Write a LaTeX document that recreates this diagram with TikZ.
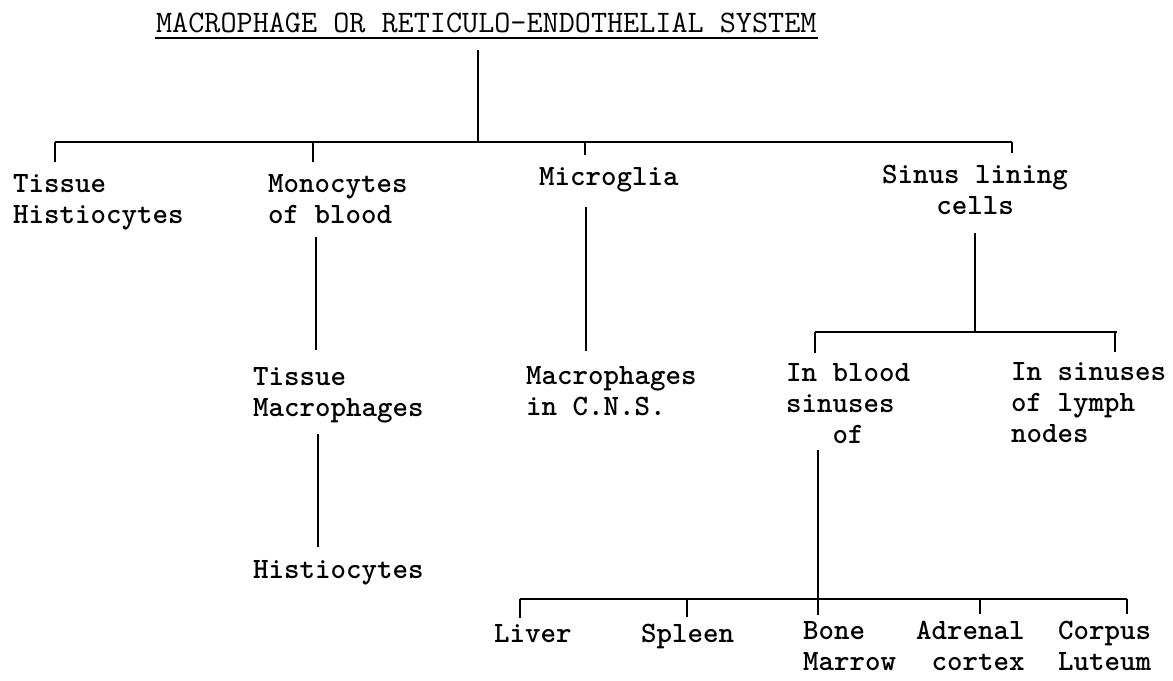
\documentclass[tikz,border=0pt]{standalone}
\usepackage{fontspec}
\usetikzlibrary{positioning}

\begin{document}
\begin{tikzpicture}[x=0.02cm, y=-0.02cm, line width=1.3pt,
    lbl/.style={font=\fontsize{16.8}{17.6}\selectfont\ttfamily\bfseries, inner sep=0pt,
                align=left, anchor=base west}]
    \useasboundingbox (0,0) rectangle (1173,680);

    % heading with underline
    \node[lbl, font=\fontsize{17.8}{18}\selectfont\ttfamily] (title) at (155,32)
        {MACROPHAGE OR RETICULO-ENDOTHELIAL SYSTEM};
    \draw[line width=1.1pt] ([yshift=-0.12cm] title.base west) -- ([yshift=-0.12cm] title.base east);

    % first level: four kinds of cells (base = last line)
    \node[lbl] (tissue) at (12,223) {Tissue\\Histiocytes};
    \node[lbl] (mono)   at (267,223) {Monocytes\\of blood};
    \node[lbl] (micro)  at (538,185) {Microglia};
    \node[lbl, align=center, anchor=base] (sinus) at (975,214) {Sinus lining\\cells};

    \coordinate (top)  at (478,50);
    \coordinate (barL) at (55,142);
    \coordinate (barR) at (1012,142);
    \draw (top) -- (top |- barL);
    \draw (barL) -- (barR);
    \foreach \n/\x in {tissue/55, mono/313, micro/585, sinus/1012}
        \draw (\x,142) -- ([yshift=6pt] \n.north -| \x,0);

    % monocytes branch
    \node[lbl] (tmac) at (252,416) {Tissue\\Macrophages};
    \node[lbl] (hist) at (252,578) {Histiocytes};
    \draw ([yshift=-7pt] mono.south -| 316,0) -- ([yshift=9pt] tmac.north -| 316,0);
    \draw ([yshift=-6pt] tmac.south -| 318,0) -- ([yshift=7pt] hist.north -| 318,0);

    % microglia branch
    \node[lbl] (cns) at (525,415) {Macrophages\\in C.N.S.};
    \draw ([yshift=-8pt] micro.south -| 586,0) -- ([yshift=8pt] cns.north -| 586,0);

    % sinus lining cells branch
    \node[lbl] (blood) at (785,443) {In blood\\sinuses\\\ \ \ of};
    \node[lbl] (lymph) at (1010,442) {In sinuses\\of lymph\\nodes};
    \coordinate (bar2L) at (815,332);
    \coordinate (bar2R) at (1117,332);
    \draw ([yshift=-10pt] sinus.south) -- (sinus.south |- bar2L);
    \draw (bar2L) -- (bar2R);
    \draw (bar2L) -- ([yshift=5pt] blood.north -| bar2L);
    \draw (1115,332) -- ([yshift=5pt] lymph.north -| 1115,0);

    % organs with blood sinuses
    \node[lbl] (liver)   at (493,642) {Liver};
    \node[lbl] (spleen)  at (640,642) {Spleen};
    \node[lbl] (bone)    at (802,670) {Bone\\Marrow};
    \node[lbl] (adrenal) at (915,670) {Adrenal\\\ cortex};
    \node[lbl] (corpus)  at (1057,670) {Corpus\\Luteum};
    \coordinate (bar3L) at (520,599);
    \coordinate (bar3R) at (1127,599);
    \draw (bar3L) -- (bar3R);
    \draw ([yshift=-3pt] blood.south -| 818,0) -- ([yshift=3pt] bone.north -| 818,0);
    \foreach \n/\x in {liver/520, spleen/687, adrenal/980, corpus/1127}
        \draw (\x,599) -- ([yshift=3pt] \n.north -| \x,0);
\end{tikzpicture}
\end{document}
